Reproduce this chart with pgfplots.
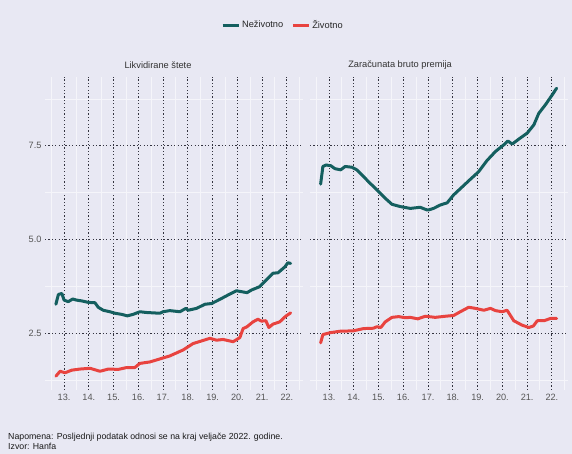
\documentclass[border=0pt]{standalone}
\usepackage{fontspec}
\setmainfont{Liberation Sans}
\usepackage{pgfplots}
\pgfplotsset{compat=1.18}
\definecolor{bg}{HTML}{E8E8F3}
\definecolor{nezivot}{HTML}{145F5F}
\definecolor{zivot}{HTML}{E8433F}
\definecolor{gridc}{HTML}{33333F}
\definecolor{tickc}{HTML}{555555}
\definecolor{titlec}{HTML}{333333}

\pgfplotsset{panel/.style={
  scale only axis, width=258bp, height=313bp,
  xmin=2012.23, xmax=2022.65, ymin=0.98, ymax=9.34,
  xtick={2013,2014,2015,2016,2017,2018,2019,2020,2021,2022},
  xticklabels={13.,14.,15.,16.,17.,18.,19.,20.,21.,22.},
  ytick={2.5,5,7.5},
  minor xtick={2012.5,2013.5,2014.5,2015.5,2016.5,2017.5,2018.5,2019.5,2020.5,2021.5,2022.5},
  minor ytick={1.25,3.75,6.25,8.75},
  grid=both,
  major grid style={dash pattern=on 1.1bp off 2.3bp, line width=1bp, color=gridc},
  minor grid style={color=bg!45!white, line width=0.4bp},
  axis line style={draw=none}, tick style={draw=none},
  tick label style={font=\fontsize{9.2}{10}\selectfont, text=tickc},
  /pgf/number format/assume math mode=true,
  yticklabel style={/pgf/number format/.cd, fixed, fixed zerofill, precision=1},
  xticklabel style={yshift=-1bp},
  axis background/.style={fill=bg},
  every axis plot/.append style={line width=3bp, line join=round, line cap=round},
}}

\begin{document}
\begin{tikzpicture}
\fill[bg] (0,0) rectangle (572bp,454bp);

% Likvidirane štete
\begin{axis}[panel, at={(45bp,64bp)}, anchor=south west,
  legend columns=2,
  legend style={at={(0.922,1.166)}, anchor=center, draw=none, fill=none,
    font=\fontsize{9.3}{11}\selectfont, text=black!85,
    /tikz/every even column/.append style={column sep=6bp}},
  legend image code/.code={\draw[#1, line width=3bp, line cap=butt] (0bp,0bp) -- (16bp,0bp);},
  extra description/.code={\node[font=\fontsize{9.3}{11}\selectfont, text=titlec] at (0.438,1.038) {Likvidirane štete};},
]
\addplot[nezivot] coordinates {
(2012.67,3.27) (2012.77,3.53) (2012.91,3.56) (2013.00,3.38) (2013.17,3.34)
(2013.35,3.41) (2013.51,3.38) (2013.71,3.36) (2013.98,3.32) (2014.25,3.31)
(2014.38,3.19) (2014.58,3.11) (2014.85,3.07) (2015.06,3.03) (2015.33,3.00)
(2015.55,2.96) (2015.79,3.00) (2016.06,3.07) (2016.33,3.05) (2016.60,3.04)
(2016.87,3.03) (2017.00,3.07) (2017.27,3.10) (2017.68,3.07) (2017.92,3.16)
(2018.01,3.11) (2018.35,3.16) (2018.69,3.27) (2018.96,3.29) (2019.29,3.40)
(2019.63,3.52) (2019.96,3.63) (2020.39,3.58) (2020.57,3.65) (2020.90,3.74)
(2021.17,3.92) (2021.44,4.10) (2021.64,4.11) (2021.92,4.27) (2022.04,4.38)
(2022.15,4.36)
};
\addlegendentry{Neživotno}
\addplot[zivot] coordinates {
(2012.67,1.35) (2012.84,1.48) (2013.04,1.44) (2013.31,1.51) (2013.65,1.54)
(2014.05,1.56) (2014.45,1.48) (2014.79,1.54) (2015.19,1.53) (2015.53,1.58)
(2015.86,1.58) (2016.06,1.69) (2016.47,1.73) (2016.87,1.81) (2017.27,1.89)
(2017.81,2.05) (2018.21,2.22) (2018.55,2.29) (2018.89,2.36) (2019.16,2.31)
(2019.42,2.33) (2019.83,2.27) (2020.10,2.38) (2020.23,2.62) (2020.39,2.67)
(2020.63,2.80) (2020.83,2.87) (2020.97,2.82) (2021.15,2.83) (2021.27,2.65)
(2021.44,2.74) (2021.71,2.80) (2021.95,2.95) (2022.15,3.04)
};
\addlegendentry{Životno}
\end{axis}

% Zaračunata bruto premija
\begin{axis}[panel, at={(310bp,64bp)}, anchor=south west,
  yticklabels={},
  extra description/.code={\node[font=\fontsize{9.3}{11}\selectfont, text=titlec] at (0.349,1.038) {Zaračunata bruto premija};},
]
\addplot[nezivot] coordinates {
(2012.66,6.48) (2012.75,6.95) (2012.88,6.99) (2013.07,6.97) (2013.24,6.89)
(2013.47,6.86) (2013.65,6.95) (2013.92,6.93) (2014.12,6.86) (2014.39,6.68)
(2014.66,6.50) (2015.00,6.28) (2015.27,6.10) (2015.54,5.94) (2015.87,5.88)
(2016.28,5.83) (2016.68,5.86) (2016.95,5.79) (2017.02,5.79) (2017.22,5.83)
(2017.49,5.92) (2017.77,5.98) (2018.03,6.19) (2018.37,6.40) (2018.71,6.61)
(2019.04,6.81) (2019.38,7.11) (2019.72,7.35) (2020.06,7.53) (2020.22,7.63)
(2020.40,7.55) (2020.66,7.68) (2021.00,7.84) (2021.27,8.06) (2021.47,8.37)
(2021.74,8.60) (2022.01,8.86) (2022.19,9.04)
};
\addplot[zivot] coordinates {
(2012.66,2.24) (2012.75,2.46) (2013.04,2.51) (2013.45,2.55) (2013.98,2.56)
(2014.39,2.62) (2014.79,2.63) (2014.93,2.67) (2015.09,2.65) (2015.27,2.80)
(2015.54,2.92) (2015.81,2.94) (2016.08,2.91) (2016.28,2.92) (2016.58,2.88)
(2016.89,2.95) (2017.29,2.92) (2017.70,2.95) (2018.03,2.97) (2018.30,3.07)
(2018.64,3.19) (2018.91,3.16) (2019.25,3.11) (2019.52,3.16) (2019.72,3.10)
(2019.99,3.07) (2020.19,3.11) (2020.46,2.83) (2020.80,2.71) (2021.07,2.65)
(2021.25,2.69) (2021.41,2.83) (2021.68,2.83) (2021.94,2.89) (2022.19,2.89)
};
\end{axis}

\node[anchor=base west, font=\fontsize{8.8}{10}\selectfont, text=black!90, inner sep=0pt] at (8bp,15bp) {Napomena: Posljednji podatak odnosi se na kraj veljače 2022. godine.};
\node[anchor=base west, font=\fontsize{8.8}{10}\selectfont, text=black!90, inner sep=0pt] at (8bp,5bp) {Izvor: Hanfa};
\end{tikzpicture}
\end{document}
